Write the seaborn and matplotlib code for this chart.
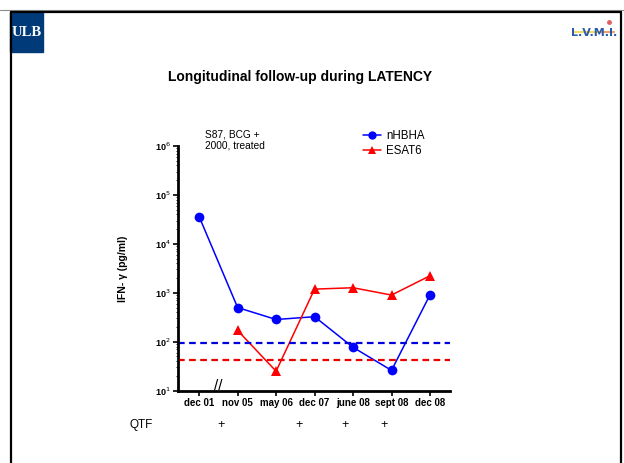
import matplotlib
matplotlib.use("Agg")
import matplotlib.pyplot as plt
import matplotlib.ticker as mticker
from matplotlib.patches import Rectangle
from matplotlib.lines import Line2D
import seaborn as sns
import pandas as pd
import numpy as np

# ---- data ----
timepoints = ["dec 01", "nov 05", "may 06", "dec 07", "june 08", "sept 08", "dec 08"]
nhbha = [36000, 500, 285, 325, 77, 26, 910]
esat6 = [None, 170, 25, 1190, 1270, 900, 2230]
cutoff_nhbha = 95
cutoff_esat6 = 42
qtf_labels = ["+", "", "", "+", "+", "+", ""]
ytick_labels = ["10$^1$", "10$^2$", "10$^3$", "10$^4$", "10$^5$", "10$^6$"]

rows = []
for i, t in enumerate(timepoints):
    rows.append({"pos": i, "time": t, "value": nhbha[i], "antigen": "nHBHA"})
    if esat6[i] is not None:
        rows.append({"pos": i, "time": t, "value": esat6[i], "antigen": "ESAT6"})
df = pd.DataFrame(rows)

sns.set_theme(style="white")
plt.rcParams["font.family"] = ["Liberation Sans", "DejaVu Sans"]
for k in ["text.color", "axes.labelcolor", "xtick.color", "ytick.color"]:
    plt.rcParams[k] = "black"

W, H = 624, 463
fig = plt.figure(figsize=(W / 100, H / 100), dpi=100)

ax = fig.add_axes([178 / W, 1 - 390.7 / H, (450 - 178) / W, (390.7 - 146) / H])

palette = {"nHBHA": "#0000ff", "ESAT6": "#ff0000"}
markers = {"nHBHA": "o", "ESAT6": "^"}
sns.lineplot(data=df, x="pos", y="value", hue="antigen", style="antigen",
             palette=palette, markers=markers, dashes=False, markersize=7,
             markeredgewidth=0, linewidth=1.1, ax=ax, legend=False, sort=False)

ax.set_yscale("log")
ax.set_ylim(10, 1e6)
ax.set_xlim(-0.55, 6.52)

ax.axhline(cutoff_nhbha, color="#0000dd", lw=1.6, ls=(0, (3, 2)))
ax.axhline(cutoff_esat6, color="#ee0000", lw=1.6, ls=(0, (3, 2)))

ax.set_xticks(range(len(timepoints)))
ax.set_xticklabels(timepoints, fontsize=7, fontweight="bold")
ax.set_yticks([10, 1e2, 1e3, 1e4, 1e5, 1e6])
ax.set_yticklabels(ytick_labels, fontsize=6.5, fontweight="bold")
ax.yaxis.set_minor_locator(mticker.LogLocator(base=10, subs=np.arange(2, 10)))
ax.yaxis.set_minor_formatter(mticker.NullFormatter())
ax.tick_params(axis="both", which="major", direction="out", length=3.5, width=1.2,
               colors="black", left=True, bottom=True, pad=2)
ax.tick_params(axis="y", which="minor", direction="out", length=1.8, width=0.6, left=True,
               colors="black")
for s in ["top", "right"]:
    ax.spines[s].set_visible(False)
for s in ["left", "bottom"]:
    ax.spines[s].set_color("black")
    ax.spines[s].set_linewidth(2)
ax.set_xlabel("")
ax.set_ylabel("IFN- γ (pg/ml)", fontsize=7.5, fontweight="bold", labelpad=19, color="black")
ax.set_facecolor("white")

# axis break mark
ax.text(0.5, 12.5, "//", ha="center", va="center", fontsize=11, color="black")

# annotation
fig.text(205 / W, 1 - 140 / H, "S87, BCG +\n2000, treated", fontsize=7.3,
         ha="left", va="center", linespacing=1.1, color="black")

# legend
handles = [Line2D([], [], color="#0000ff", marker="o", markersize=6, markeredgewidth=0, lw=1.1),
           Line2D([], [], color="#ff0000", marker="^", markersize=6, markeredgewidth=0, lw=1.1)]
leg = fig.legend(handles, ["nHBHA", "ESAT6"], loc="upper left",
                 bbox_to_anchor=(357 / W, 1 - 124 / H), frameon=False, fontsize=8.3,
                 handlelength=1.6, handletextpad=0.4, labelspacing=0.3, borderpad=0)
for t in leg.get_texts():
    t.set_color("black")

# title
fig.text(300 / W, 1 - 77 / H, "Longitudinal follow-up during LATENCY",
         fontsize=10, fontweight="bold", ha="center", va="center", color="black")

# QTF row
fig.text(129 / W, 1 - 425 / H, "QTF", fontsize=8.5, ha="left", va="center", color="black")
qtf_x = [221, 260, 276, 299, 345, 384, 430]
for xq, lab in zip(qtf_x, qtf_labels):
    if lab:
        fig.text(xq / W, 1 - 425 / H, lab, fontsize=9, ha="center", va="center", color="black")

# slide frame
fig.add_artist(Line2D([0.0, 1.0], [1 - 9.5 / H, 1 - 9.5 / H], color="#888888", lw=0.8,
                      transform=fig.transFigure))
fig.add_artist(Line2D([11 / W, 621 / W], [1 - 12 / H, 1 - 12 / H], color="black", lw=1.6,
                      transform=fig.transFigure))
fig.add_artist(Line2D([11 / W, 11 / W], [0, 1 - 12 / H], color="black", lw=1.6,
                      transform=fig.transFigure))
fig.add_artist(Line2D([621 / W, 621 / W], [0, 1 - 12 / H], color="black", lw=1.6,
                      transform=fig.transFigure))

# ULB logo
fig.add_artist(Rectangle((10 / W, 1 - 52 / H), 33 / W, 40 / H, color="#003a78",
                         transform=fig.transFigure))
fig.text(26.5 / W, 1 - 32 / H, "ULB", color="white", fontsize=10.5, fontweight="bold",
         family="Liberation Serif", ha="center", va="center")

# LVMI logo
fig.add_artist(Line2D([573 / W, 614 / W], [1 - 32 / H, 1 - 32 / H], color="#f5d96b", lw=1.5,
                      transform=fig.transFigure))
fig.add_artist(Line2D([600 / W, 614 / W], [1 - 32 / H, 1 - 32 / H], color="#f0a070", lw=1.5,
                      transform=fig.transFigure))
fig.text(594 / W, 1 - 33 / H, "L.V.M.I.", color="#2a5aa8", fontsize=8, fontweight="bold",
         family="DejaVu Sans Condensed", ha="center", va="center")
fig.add_artist(Line2D([608.5 / W], [1 - 22 / H], color="#e06060", marker="o", markersize=3.5,
                      markeredgewidth=0, transform=fig.transFigure))

fig.savefig("out.png", dpi=100, facecolor="white")
